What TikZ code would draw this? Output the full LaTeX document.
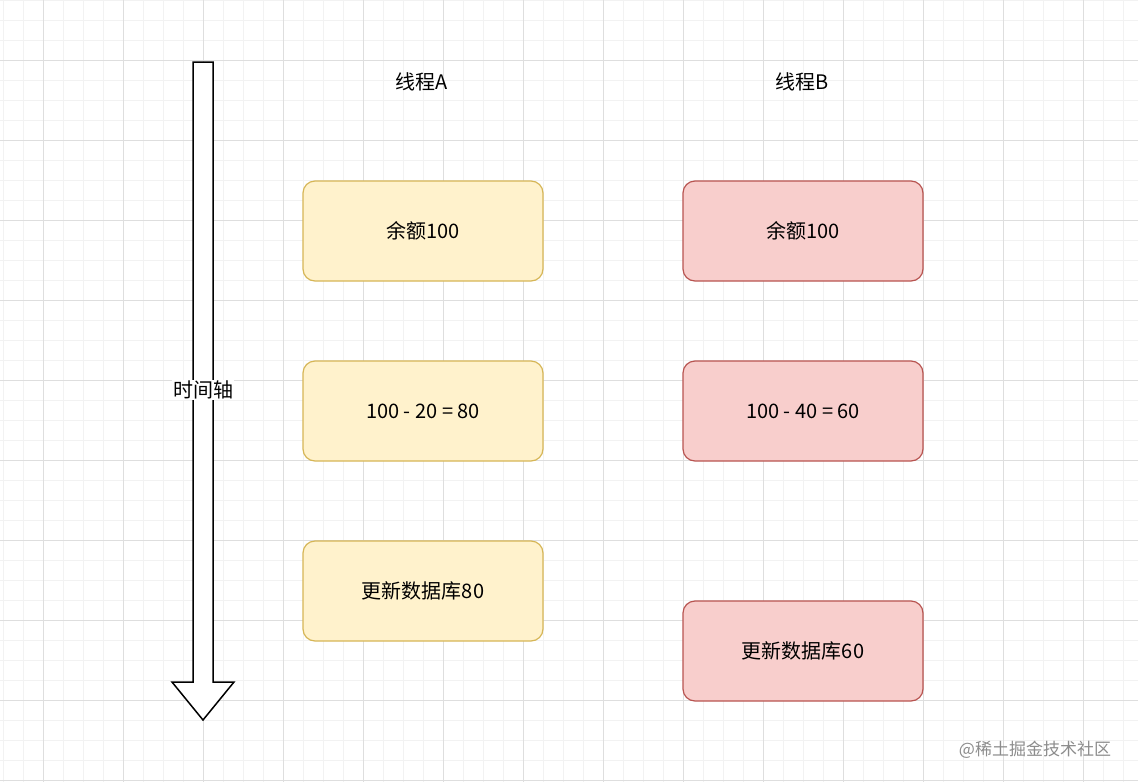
\documentclass[tikz,border=0pt]{standalone}
\usepackage{fontspec}
\setmainfont{Noto Sans CJK SC}
\begin{document}
\begin{tikzpicture}[x=1pt,y=-1pt,
 box/.style={draw,rounded corners=12pt,minimum width=240pt,minimum height=100pt,line width=1.2pt,font=\fontsize{20}{24}\selectfont},
 ya/.style={box,fill=yfill,draw=ydraw},
 rb/.style={box,fill=rfill,draw=rdraw},
 lbl/.style={font=\fontsize{20}{24}\selectfont}]
\definecolor{yfill}{HTML}{FFF2CC}\definecolor{ydraw}{HTML}{D6B656}
\definecolor{rfill}{HTML}{F8CECC}\definecolor{rdraw}{HTML}{B85450}
\useasboundingbox (0,0) rectangle (1138,782);
\fill[white] (0,0) rectangle (1138,782);
\foreach \x in {3,23,...,1138} \draw[black!5,line width=0.8pt] (\x,0) -- (\x,782);
\foreach \y in {0,20,...,782} \draw[black!5,line width=0.8pt] (0,\y) -- (1138,\y);
\foreach \x in {43,123,...,1138} \draw[black!13,line width=0.8pt] (\x,0) -- (\x,782);
\foreach \y in {60,140,...,782} \draw[black!13,line width=0.8pt] (0,\y) -- (1138,\y);
\draw[line width=1.5pt,fill=white] (193,62) -- (213,62) -- (213,682) -- (234,682) -- (203,720) -- (172,682) -- (193,682) -- cycle;
\node[lbl,fill=white,inner sep=1pt] (axis) at (203,390) {时间轴};
\node[lbl] (ta) at (422,82) {线程A};
\node[lbl] (tb) at (802,82) {线程B};
\node[ya] (a1) at (423,231) {余额100};
\node[ya] (a2) at (423,411) {100 - 20 = 80};
\node[ya] (a3) at (423,591) {更新数据库80};
\node[rb] (b1) at (803,231) {余额100};
\node[rb] (b2) at (803,411) {100 - 40 = 60};
\node[rb] (b3) at (803,651) {更新数据库60};
\node[font=\fontsize{17}{20}\selectfont,text=black!45] (wm) at (1035,750) {@稀土掘金技术社区};
\end{tikzpicture}
\end{document}
